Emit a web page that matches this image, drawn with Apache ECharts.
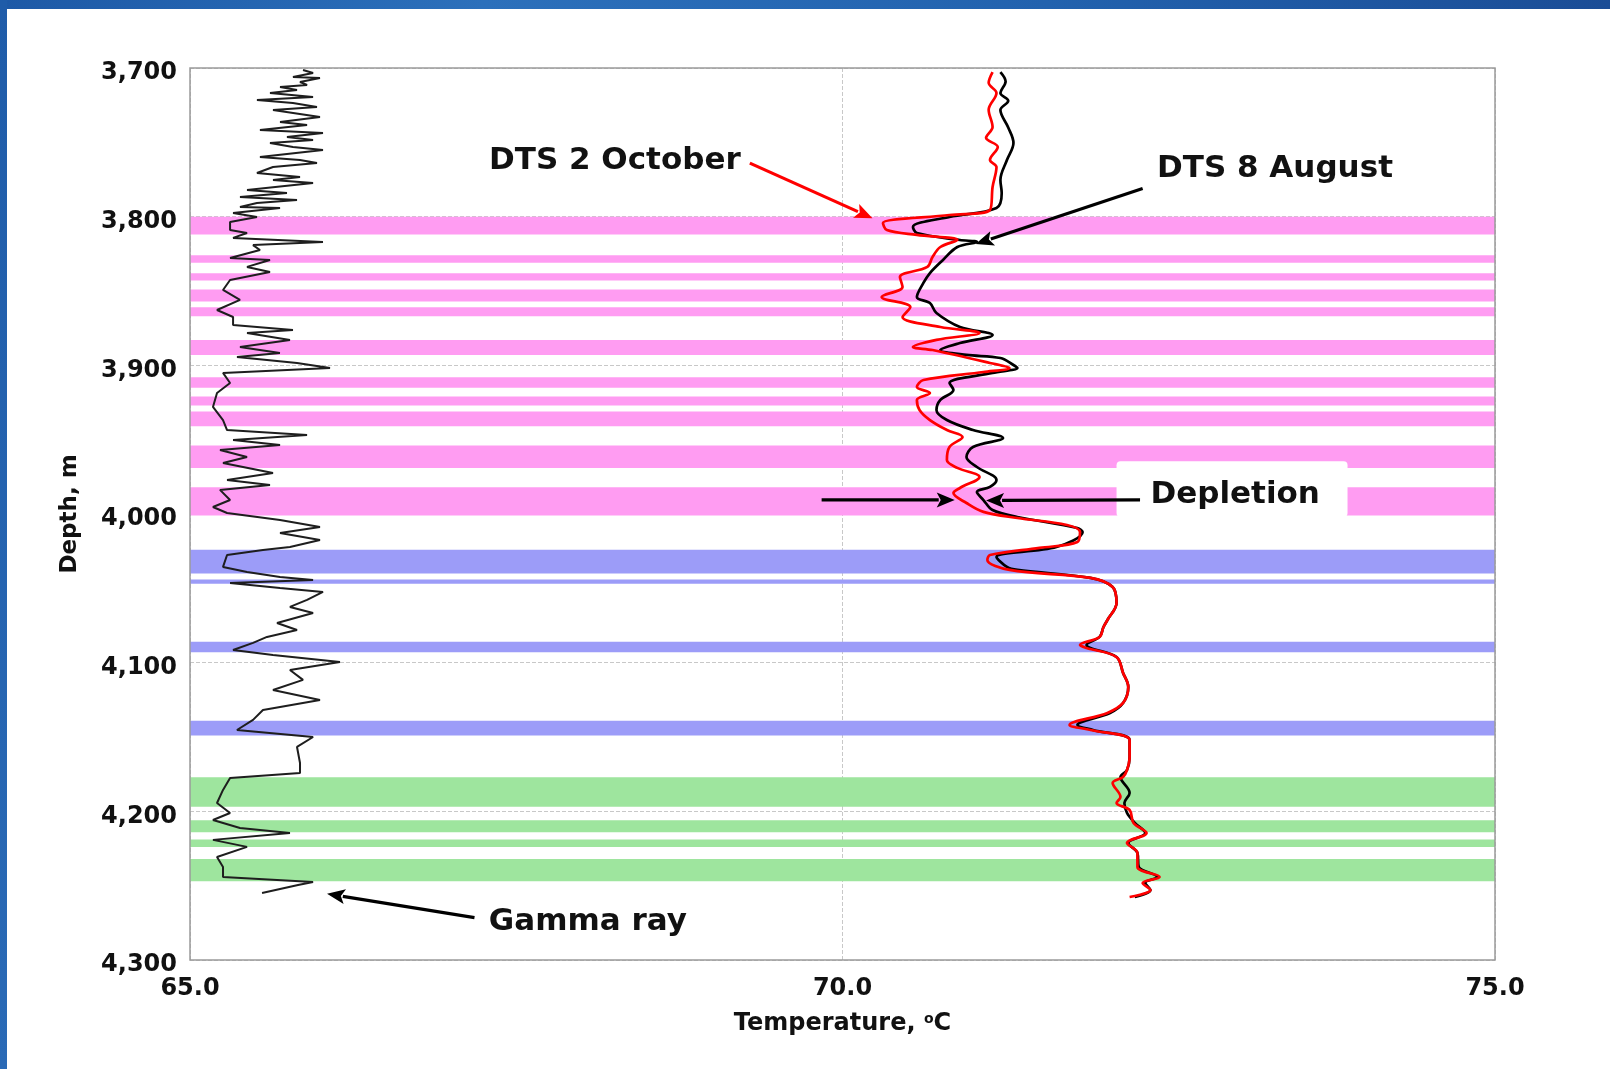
<!DOCTYPE html>
<html><head><meta charset="utf-8">
<script src="https://cdn.jsdelivr.net/npm/echarts@6/dist/echarts.min.js"></script>
<style>html,body{margin:0;padding:0;background:#fff;}#c{width:1610px;height:1069px;}</style>
</head><body><div id="c"></div>
<script>
// ---------- DATA ----------
const depthRange = [3700, 4300];
const tempRange = [65, 75];
// shaded intervals (depth top, depth bottom), m
const pinkBands = [[3800,3812],[3826,3831],[3838,3843],[3849,3857],[3861,3867],[3883,3893],[3908,3915],[3921,3927],[3931,3941],[3954,3969],[3982,4001]];
const blueBands = [[4024,4040],[4044,4047],[4086,4093],[4139,4149]];
const greenBands = [[4177,4197],[4206,4214],[4219,4224],[4232,4247]];
// DTS 2 October: [depth m, temperature C]
const dtsOct2 = [[3702.7,71.15],[3710.0,71.12],[3716.8,71.18],[3728.0,71.12],[3739.7,71.15],[3747.0,71.10],[3753.1,71.19],[3761.9,71.13],[3766.6,71.18],[3780.0,71.15],[3795.5,71.13],[3798.9,70.82],[3804.3,70.31],[3809.0,70.34],[3812.3,70.57],[3815.7,70.88],[3820.4,70.75],[3827.1,70.69],[3833.8,70.65],[3840.6,70.44],[3847.3,70.46],[3854.0,70.30],[3860.8,70.52],[3867.5,70.46],[3874.2,70.75],[3878.2,71.05],[3882.9,70.72],[3887.7,70.54],[3889.7,70.69],[3898.4,71.13],[3901.8,71.28],[3904.5,71.08],[3909.9,70.62],[3914.6,70.57],[3918.6,70.67],[3923.3,70.57],[3930.0,70.59],[3936.8,70.67],[3943.5,70.80],[3948.2,70.92],[3954.9,70.82],[3963.7,70.80],[3969.0,70.88],[3975.1,71.05],[3982.5,70.90],[3985.9,70.85],[3992.6,70.95],[3998.6,71.08],[4002.7,71.34],[4007.4,71.72],[4012.1,71.82],[4018.8,71.80],[4022.8,71.51],[4027.6,71.13],[4030.9,71.11],[4037.6,71.28],[4043.0,71.90],[4049.1,72.07],[4059.8,72.10],[4071.3,72.03],[4076.0,72.00],[4082.7,71.97],[4088.1,71.82],[4090.1,71.87],[4096.2,72.10],[4106.9,72.15],[4116.3,72.19],[4127.1,72.15],[4133.8,72.03],[4141.9,71.74],[4145.3,71.90],[4152.0,72.20],[4163.4,72.20],[4172.2,72.18],[4176.9,72.15],[4180.9,72.07],[4190.3,72.13],[4194.4,72.10],[4199.1,72.20],[4207.8,72.23],[4214.6,72.33],[4221.3,72.18],[4228.0,72.26],[4237.4,72.26],[4244.1,72.43],[4248.2,72.30],[4252.9,72.36],[4257.6,72.20]];
// DTS 8 August: [depth m, temperature C]
const dtsAug8 = [[3702.7,71.21],[3709.0,71.25],[3716.8,71.21],[3722.0,71.27],[3728.3,71.21],[3740.0,71.27],[3750.4,71.31],[3761.9,71.26],[3775.3,71.21],[3784.1,71.22],[3794.2,71.18],[3800.2,70.82],[3806.9,70.54],[3811.0,70.57],[3815.7,70.90],[3817.0,71.03],[3820.4,70.88],[3829.1,70.77],[3837.9,70.67],[3844.6,70.62],[3854.0,70.57],[3858.1,70.67],[3864.8,70.72],[3874.2,70.90],[3879.6,71.15],[3885.0,70.90],[3889.7,70.75],[3893.0,70.95],[3895.1,71.21],[3899.8,71.31],[3901.8,71.34],[3905.1,71.15],[3911.9,70.82],[3916.6,70.85],[3923.3,70.75],[3930.0,70.72],[3936.8,70.80],[3943.5,71.00],[3948.9,71.23],[3954.9,71.00],[3961.6,70.95],[3968.4,71.03],[3977.1,71.18],[3981.8,71.13],[3985.2,71.03],[3990.6,71.08],[3997.3,71.15],[4002.0,71.34],[4009.4,71.80],[4012.1,71.84],[4022.2,71.64],[4028.9,71.18],[4035.6,71.26],[4037.6,71.34],[4043.0,71.90],[4049.1,72.07],[4059.8,72.10],[4071.3,72.03],[4076.0,72.00],[4082.7,71.97],[4088.1,71.87],[4090.1,71.90],[4096.2,72.10],[4106.9,72.15],[4116.3,72.19],[4127.1,72.15],[4133.8,72.05],[4141.9,71.80],[4145.3,71.92],[4152.0,72.20],[4163.4,72.20],[4172.2,72.18],[4176.9,72.13],[4187.6,72.20],[4194.4,72.16],[4201.1,72.18],[4207.8,72.24],[4214.6,72.32],[4221.3,72.19],[4228.0,72.26],[4237.4,72.27],[4244.1,72.41],[4248.2,72.32],[4252.9,72.36],[4257.6,72.24]];
// Gamma ray: [depth m, GR (API, hidden 0-1000 scale)]
const gammaRay = [[3701.3,86.6],[3703.4,94.3],[3706.1,78.9],[3706.7,99.6],[3709.4,84.3],[3711.4,89.7],[3712.8,69.0],[3714.8,82.0],[3716.8,61.3],[3719.5,94.3],[3721.5,51.3],[3723.5,78.9],[3726.2,97.3],[3728.2,63.6],[3733.0,99.6],[3736.3,69.0],[3738.3,89.7],[3741.7,53.6],[3743.7,101.9],[3746.4,74.3],[3748.4,94.3],[3750.4,61.3],[3753.1,78.9],[3755.2,101.9],[3759.9,53.6],[3761.9,84.3],[3763.9,97.3],[3766.6,63.6],[3770.6,51.3],[3773.3,84.3],[3775.3,63.6],[3777.3,94.3],[3782.1,43.7],[3784.1,74.3],[3786.8,38.3],[3788.8,82.0],[3790.8,51.3],[3793.5,38.3],[3794.2,69.0],[3797.5,33.0],[3800.2,51.3],[3803.6,30.7],[3809.0,30.7],[3811.0,43.7],[3814.3,33.0],[3817.0,101.9],[3819.1,48.3],[3822.4,53.6],[3827.8,30.7],[3829.1,61.3],[3833.8,43.7],[3837.2,61.3],[3842.6,30.7],[3849.3,25.3],[3856.0,38.3],[3862.8,20.7],[3867.5,33.0],[3872.9,33.0],[3876.2,78.9],[3878.2,43.7],[3882.9,76.6],[3887.7,38.3],[3891.7,68.9],[3894.4,36.0],[3898.4,82.0],[3901.8,107.3],[3905.1,25.3],[3911.9,30.7],[3918.6,20.7],[3928.0,17.6],[3936.8,25.3],[3943.5,28.4],[3946.8,89.7],[3950.2,33.0],[3953.6,69.0],[3956.9,23.0],[3961.6,43.7],[3965.7,25.3],[3972.4,63.6],[3977.1,28.4],[3980.5,61.3],[3983.8,23.0],[3990.6,30.7],[3995.3,17.6],[3999.3,28.4],[4004.0,69.0],[4008.7,99.6],[4012.8,69.0],[4017.5,99.6],[4022.2,76.6],[4024.2,55.9],[4027.6,28.4],[4035.6,25.3],[4039.0,43.7],[4042.3,69.0],[4044.4,94.3],[4046.4,30.7],[4049.8,69.0],[4052.4,101.9],[4057.8,89.7],[4062.5,76.6],[4066.6,94.3],[4073.3,66.7],[4078.0,82.0],[4082.7,59.0],[4086.7,48.3],[4091.5,33.0],[4094.8,63.6],[4099.5,114.9],[4104.9,76.6],[4111.6,86.6],[4118.4,63.6],[4125.1,99.6],[4131.8,55.9],[4138.5,48.3],[4145.3,36.0],[4150.0,94.3],[4156.7,82.0],[4167.5,84.3],[4174.2,84.3],[4177.5,30.7],[4185.6,25.3],[4194.4,20.7],[4201.1,30.7],[4205.8,17.6],[4211.2,38.3],[4214.5,76.6],[4219.2,17.6],[4223.9,43.7],[4230.7,20.7],[4237.4,25.3],[4244.1,25.3],[4247.5,94.3],[4249.5,82.8],[4254.9,55.2]];
// annotations in data coordinates [temperature, depth]
const notes = [
  {text:'DTS 2 October', at:[69.22,3762.5], align:'right'},
  {text:'DTS 8 August', at:[72.41,3768], align:'left'},
  {text:'Depletion', at:[72.36,3987.5], align:'left'},
  {text:'Gamma ray', at:[67.29,4274.5], align:'left'}
];
const arrows = [
  {from:[69.29,3764], to:[70.23,3801], color:'#ff0000'},
  {from:[72.30,3781], to:[71.02,3818.4], color:'#000000'},
  {from:[69.84,3990.5], to:[70.86,3990.5], color:'#000000'},
  {from:[72.28,3990.5], to:[71.10,3990.9], color:'#000000'},
  {from:[67.18,4271.5], to:[66.05,4255.5], color:'#000000'}
];
const depletionBox = [[72.10,3964.5],[73.87,4002]];

// ---------- CHART ----------
const FONT = 'DejaVu Sans';
const chart = echarts.init(document.getElementById('c'));
function areas(bands, color){
  return bands.map(b => [{xAxis:tempRange[0], yAxis:b[0], itemStyle:{color:color, opacity:1}}, {xAxis:tempRange[1], yAxis:b[1]}]);
}
const swap = arr => arr.map(p => [p[1], p[0]]);
chart.setOption({
  animation:false,
  backgroundColor:'#ffffff',
  grid:{left:190, top:68, right:115, bottom:109, show:false},
  xAxis:[{
    type:'value', min:tempRange[0], max:tempRange[1], interval:5, position:'bottom',
    axisLine:{show:false}, axisTick:{show:false},
    axisLabel:{formatter:v=>v.toFixed(1), color:'#111', fontFamily:FONT, fontWeight:'bold', fontSize:24, margin:17},
    splitLine:{show:true, lineStyle:{color:'#c8c8c8', type:'dashed', width:1}},
    name:'Temperature, {s|o}C', nameLocation:'middle', nameGap:52,
    nameTextStyle:{color:'#111', fontFamily:FONT, fontWeight:'bold', fontSize:24,
      rich:{s:{fontSize:14, fontWeight:'bold', fontFamily:FONT, color:'#111', verticalAlign:'top'}}}
  },{
    type:'value', min:0, max:1000, show:false
  }],
  yAxis:{
    type:'value', inverse:true, min:depthRange[0], max:depthRange[1], interval:100,
    axisLine:{show:false}, axisTick:{show:false},
    axisLabel:{formatter:v=>'{a|' + v.toLocaleString('en-US') + '}', margin:13,
      rich:{a:{color:'#111', fontFamily:FONT, fontWeight:'bold', fontSize:24, padding:[10,0,0,0]}}},
    splitLine:{show:true, lineStyle:{color:'#c8c8c8', type:'dashed', width:1}},
    name:'Depth, m', nameLocation:'middle', nameGap:108, nameRotate:90,
    nameTextStyle:{color:'#111', fontFamily:FONT, fontWeight:'bold', fontSize:23}
  },
  series:[
    {name:'bands', type:'line', data:[], symbol:'none', z:1, silent:true,
      markArea:{silent:true, data:[].concat(areas(pinkBands,'#ff9cf2'), areas(blueBands,'#9c9cf8'), areas(greenBands,'#9ee59e'))}},
    {name:'Gamma ray', type:'line', xAxisIndex:1, data:swap(gammaRay), symbol:'none', z:5,
      lineStyle:{color:'#1e1e1e', width:2}},
    {name:'DTS 8 August', type:'line', data:swap(dtsAug8), symbol:'none', smooth:0.35, z:6,
      lineStyle:{color:'#000000', width:2.7}},
    {name:'DTS 2 October', type:'line', data:swap(dtsOct2), symbol:'none', smooth:0.35, z:7,
      lineStyle:{color:'#ff0000', width:2.7}}
  ]
});

// ---------- DECORATION / ANNOTATIONS ----------
const px = p => chart.convertToPixel({xAxisIndex:0, yAxisIndex:0}, p);
const g = [];
g.push({type:'rect', z:50, shape:{x:0,y:0,width:1610,height:9},
  style:{fill:new echarts.graphic.LinearGradient(0,0,1,0,[{offset:0,color:'#1d59a6'},{offset:0.3,color:'#2c70bb'},{offset:0.65,color:'#2262ae'},{offset:1,color:'#1b4d96'}])}});
g.push({type:'rect', z:50, shape:{x:0,y:0,width:7,height:1069},
  style:{fill:new echarts.graphic.LinearGradient(0,0,0,1,[{offset:0,color:'#1f5ca9'},{offset:1,color:'#2a6ab6'}])}});
const tl = px([tempRange[0], depthRange[0]]), br = px([tempRange[1], depthRange[1]]);
g.push({type:'rect', z:40, shape:{x:tl[0], y:tl[1], width:br[0]-tl[0], height:br[1]-tl[1]},
  style:{fill:null, stroke:'#9a9a9a', lineWidth:1.5}});
const b0 = px(depletionBox[0]), b1 = px(depletionBox[1]);
g.push({type:'rect', z:8, shape:{x:b0[0], y:b0[1], width:b1[0]-b0[0], height:b1[1]-b0[1], r:4},
  style:{fill:'#ffffff'}});
arrows.forEach(a => {
  const p0 = px(a.from), p1 = px(a.to);
  const dx = p1[0]-p0[0], dy = p1[1]-p0[1], L = Math.hypot(dx,dy);
  const ux = dx/L, uy = dy/L, nx = -uy, ny = ux;
  const hl = 18, hw = 7.5;
  const bx = p1[0]-ux*hl, by = p1[1]-uy*hl;
  g.push({type:'line', z:20, shape:{x1:p0[0], y1:p0[1], x2:bx+ux*2, y2:by+uy*2}, style:{stroke:a.color, lineWidth:3.2}});
  g.push({type:'polygon', z:20, shape:{points:[[p1[0],p1[1]],[bx+nx*hw, by+ny*hw],[bx+ux*4, by+uy*4],[bx-nx*hw, by-ny*hw]]}, style:{fill:a.color}});
});
notes.forEach(n => {
  const p = px(n.at);
  g.push({type:'text', z:25, x:p[0], y:p[1], style:{text:n.text, fill:'#111', font:'bold 31px "DejaVu Sans"', align:n.align, verticalAlign:'middle'}});
});
chart.setOption({graphic:g});
</script>
</body></html>
